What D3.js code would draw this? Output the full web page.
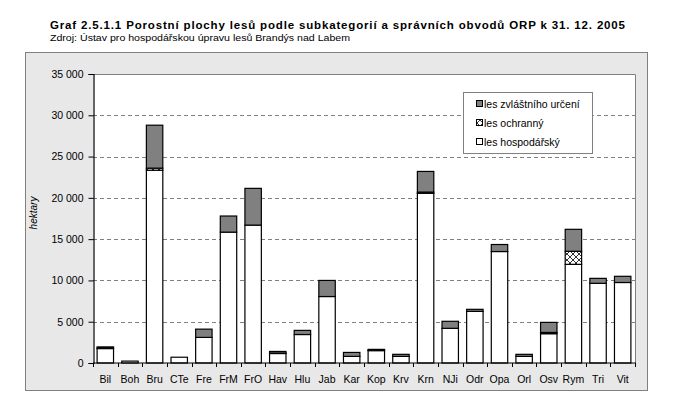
<!DOCTYPE html>
<html>
<head>
<meta charset="utf-8">
<script src="https://cdn.jsdelivr.net/npm/d3@7"></script>
<style>
  body { margin: 0; background: #fff; }
  text { font-family: "Liberation Sans", Arial, sans-serif; }
</style>
</head>
<body>
<div id="vis"></div>
<script>
// frame
const FRAME_WIDTH = 673;
const FRAME_HEIGHT = 414;
const MARGINS = {left: 93, right: 38, top: 74, bottom: 51};
const VIS_WIDTH = FRAME_WIDTH - MARGINS.left - MARGINS.right;
const VIS_HEIGHT = FRAME_HEIGHT - MARGINS.top - MARGINS.bottom;

// data (hectares)
const categories = ["Bil", "Boh", "Bru", "CTe", "Fre", "FrM", "FrO", "Hav", "Hlu", "Jab",
                    "Kar", "Kop", "Krv", "Krn", "NJi", "Odr", "Opa", "Orl", "Osv", "Rym",
                    "Tri", "Vit"];
const hospodarsky = [1750, 230, 23350, 700, 3100, 15850, 16700, 1150, 3450, 8050,
                     800, 1500, 800, 20550, 4200, 6250, 13500, 800, 3550, 11950,
                     9650, 9750];
const ochranny    = [50, 0, 250, 0, 0, 0, 0, 50, 0, 0,
                     0, 50, 0, 150, 0, 0, 0, 0, 150, 1580,
                     0, 0];
const zvlastni    = [150, 0, 5200, 0, 1000, 1950, 4450, 200, 500, 1950,
                     480, 100, 250, 2500, 850, 250, 850, 250, 1220, 2660,
                     600, 750];
const yTicks = [0, 5000, 10000, 15000, 20000, 25000, 30000, 35000];

const keys = ["hosp", "ochr", "zvl"];
const legendLabels = ["les zvláštního určení", "les ochranný", "les hospodářský"];
const legendKeys = ["zvl", "ochr", "hosp"];

const rows = categories.map((c, i) => ({cat: c, hosp: hospodarsky[i], ochr: ochranny[i], zvl: zvlastni[i]}));

const svg = d3.select("#vis")
              .append("svg")
                .attr("width", FRAME_WIDTH)
                .attr("height", FRAME_HEIGHT);

// hatch pattern for les ochranny
const defs = svg.append("defs");
const pat = defs.append("pattern")
                .attr("id", "hatch")
                .attr("patternUnits", "userSpaceOnUse")
                .attr("width", 6)
                .attr("height", 6);
pat.append("rect").attr("width", 6).attr("height", 6).attr("fill", "#fff");
pat.append("path").attr("d", "M0,0L6,6M6,0L0,6").attr("stroke", "#000").attr("stroke-width", 0.8);

const fills = {hosp: "#ffffff", ochr: "url(#hatch)", zvl: "#808080"};

// chart area background
svg.append("rect")
   .attr("x", 25.5).attr("y", 52.5)
   .attr("width", 622).attr("height", 338)
   .attr("fill", "#e8e8e8")
   .attr("stroke", "#808080");

// title
svg.append("text")
   .attr("x", 50).attr("y", 29)
   .attr("font-size", "11.5px")
   .attr("font-weight", "bold")
   .attr("textLength", 575)
   .attr("lengthAdjust", "spacing")
   .text("Graf 2.5.1.1 Porostní plochy lesů podle subkategorií a správních obvodů ORP k 31. 12. 2005");

svg.append("text")
   .attr("x", 50).attr("y", 41)
   .attr("font-size", "9.5px")
   .attr("textLength", 300)
   .attr("lengthAdjust", "spacingAndGlyphs")
   .text("Zdroj: Ústav pro hospodářskou úpravu lesů Brandýs nad Labem");

const g = svg.append("g")
             .attr("transform", "translate(" + MARGINS.left + "," + MARGINS.top + ")");

// plot area
g.append("rect")
 .attr("width", VIS_WIDTH).attr("height", VIS_HEIGHT)
 .attr("fill", "#fff");

const X_SCALE = d3.scaleBand()
                  .domain(categories)
                  .range([0, VIS_WIDTH])
                  .paddingInner(1 / 3)
                  .paddingOuter(1 / 6);

const Y_SCALE = d3.scaleLinear()
                  .domain([0, 35000])
                  .range([VIS_HEIGHT, 0]);

// gridlines
g.selectAll(".grid")
 .data(yTicks.filter(t => t > 0 && t < 35000))
 .enter()
 .append("line")
   .attr("x1", 0).attr("x2", VIS_WIDTH)
   .attr("y1", d => Math.round(Y_SCALE(d)) + 0.5)
   .attr("y2", d => Math.round(Y_SCALE(d)) + 0.5)
   .attr("stroke", "#808080")
   .attr("stroke-dasharray", "4,3");

// plot border top and right
g.append("path")
 .attr("d", "M0," + 0.5 + "H" + (VIS_WIDTH + 0.5) + "V" + VIS_HEIGHT)
 .attr("fill", "none")
 .attr("stroke", "#808080");

// bars
const stacked = d3.stack().keys(keys)(rows);

g.selectAll(".layer")
 .data(stacked)
 .enter()
 .append("g")
   .attr("fill", d => fills[d.key])
 .selectAll("rect")
 .data(d => d.filter(s => s[1] - s[0] > 0))
 .enter()
 .append("rect")
   .attr("x", d => X_SCALE(d.data.cat))
   .attr("y", d => Y_SCALE(d[1]))
   .attr("width", X_SCALE.bandwidth())
   .attr("height", d => Y_SCALE(d[0]) - Y_SCALE(d[1]))
   .attr("stroke", "#000")
   .attr("stroke-width", 1.2);

// y axis
const yAxis = g.append("g")
               .attr("transform", "translate(0.5,0)")
               .call(d3.axisLeft(Y_SCALE)
                       .tickValues(yTicks)
                       .tickSize(5)
                       .tickFormat(d => d3.format(",")(d).replace(/,/g, " ")));
yAxis.select(".domain").attr("stroke", "#000").attr("stroke-width", 1.2);
yAxis.selectAll("text")
     .attr("font-size", "10.5px")
     .attr("font-family", "Liberation Sans, Arial, sans-serif")
     .attr("fill", "#000")
     .attr("dx", "-2");

// x axis with ticks between categories
const step = X_SCALE.step();
const xAxis = g.append("g")
               .attr("transform", "translate(0," + VIS_HEIGHT + ")");
xAxis.append("line")
     .attr("x1", 0).attr("x2", VIS_WIDTH + 1)
     .attr("stroke", "#000").attr("stroke-width", 1.2);
xAxis.selectAll(".xtick")
     .data(d3.range(categories.length + 1))
     .enter()
     .append("line")
       .attr("x1", i => Math.round(i * step) + 0.5)
       .attr("x2", i => Math.round(i * step) + 0.5)
       .attr("y1", 0).attr("y2", 4)
       .attr("stroke", "#000");
xAxis.selectAll(".xlab")
     .data(categories)
     .enter()
     .append("text")
       .attr("x", d => X_SCALE(d) + X_SCALE.bandwidth() / 2)
       .attr("y", 20)
       .attr("text-anchor", "middle")
       .attr("font-size", "10.5px")
       .text(d => d);

// y axis title
svg.append("text")
   .attr("transform", "translate(37,213) rotate(-90)")
   .attr("text-anchor", "middle")
   .attr("font-size", "10px")
   .attr("font-style", "italic")
   .text("hektary");

// legend
const legend = svg.append("g");
legend.append("rect")
      .attr("x", 463.5).attr("y", 92.5)
      .attr("width", 129).attr("height", 61)
      .attr("fill", "#fff")
      .attr("stroke", "#808080");
legendKeys.forEach((k, i) => {
  const ly = 104 + i * 19;
  legend.append("rect")
        .attr("x", 476.5).attr("y", ly - 3.5)
        .attr("width", 6).attr("height", 6)
        .attr("fill", fills[k])
        .attr("stroke", "#000");
  legend.append("text")
        .attr("x", 484).attr("y", ly + 4)
        .attr("font-size", "10.5px")
        .text(legendLabels[i]);
});
</script>
</body>
</html>
